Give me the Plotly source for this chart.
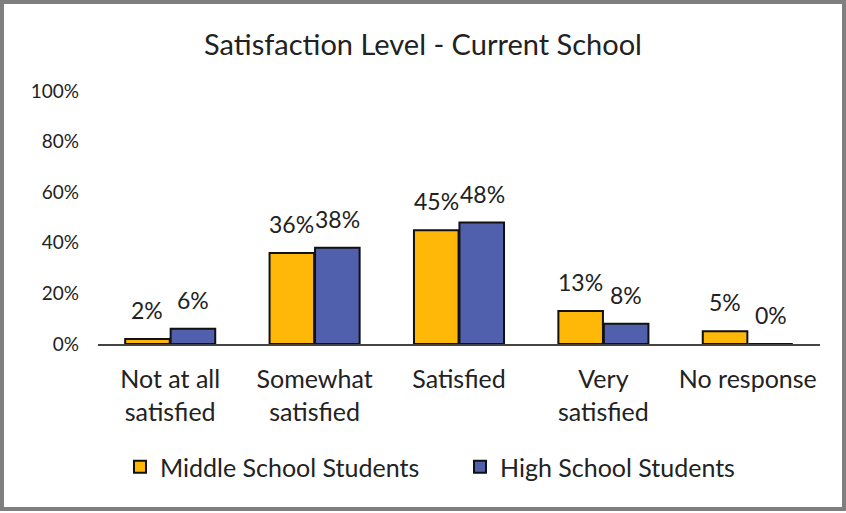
import plotly.graph_objects as go

# data
categories = ["Not at all<br>satisfied", "Somewhat<br>satisfied", "Satisfied",
              "Very<br>satisfied", "No response"]
middle_school = [0.02, 0.36, 0.45, 0.13, 0.05]
high_school = [0.06, 0.38, 0.48, 0.08, 0.00]
series_names = ["Middle School Students", "High School Students"]

W, H = 846, 513
L, R, T, B = 98, 26, 91, 169

fig = go.Figure()
fig.add_trace(go.Bar(
    name=series_names[0], x=categories, y=middle_school,
    marker=dict(color="#FFB808", line=dict(color="#111111", width=2)),
))
fig.add_trace(go.Bar(
    name=series_names[1], x=categories, y=high_school,
    marker=dict(color="#5160AC", line=dict(color="#111111", width=2)),
))

# value labels, a bit above each bar
for vals, shift in [(middle_school, -23), (high_school, 23)]:
    for cat, v in zip(categories, vals):
        fig.add_annotation(x=cat, y=v, text=f"{v:.0%}", showarrow=False,
                           xshift=shift, yshift=13, yanchor="bottom",
                           font=dict(size=23, color="#222222"))

# grey frame around whole chart
def px_x(p):
    return (p - L) / (W - L - R)

def px_y(p):
    return 1 - (p - T) / (H - T - B)

fig.add_shape(type="rect", xref="paper", yref="paper",
              x0=px_x(2), x1=px_x(W - 2), y0=px_y(H - 4), y1=px_y(2),
              line=dict(color="#7F7F7F", width=4), layer="below")

fig.update_layout(
    width=W, height=H,
    margin=dict(l=L, r=R, t=T, b=B, autoexpand=False),
    paper_bgcolor="white", plot_bgcolor="white",
    font=dict(family="Lato, Open Sans, sans-serif", color="#222222"),
    title=dict(text="Satisfaction Level - Current School", x=0.5, xanchor="center",
               y=1 - 45 / H, yanchor="middle", font=dict(size=29, color="#222222")),
    barmode="group", bargap=0.37, bargroupgap=0.02,
    showlegend=True,
    legend=dict(orientation="h", x=px_x(120), xanchor="left", y=px_y(467), yanchor="middle",
                font=dict(size=25, color="#222222"), itemwidth=30, traceorder="normal",
                entrywidth=295),
    xaxis=dict(showline=True, linecolor="#444444", linewidth=2, ticks="",
               ticklabelstandoff=12,
               tickfont=dict(size=25, color="#222222"), showgrid=False),
    yaxis=dict(range=[0, 1], dtick=0.2, tickformat=".0%", showgrid=False,
               zeroline=False, showline=False, ticks="", ticklabelstandoff=18,
               tickfont=dict(size=19, color="#222222")),
)

# drop the default 8px body margin so the chart sits at the page corner
fig.write_html("out.html", config={"displayModeBar": False},
               post_script="document.body.style.margin='0';")
